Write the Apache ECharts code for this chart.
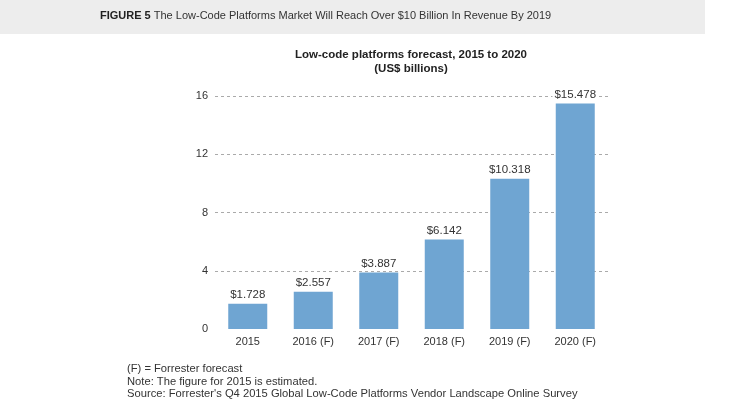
<!DOCTYPE html>
<html>
<head>
<meta charset="utf-8">
<script src="https://cdn.jsdelivr.net/npm/echarts@6/dist/echarts.min.js"></script>
<style>
html,body{margin:0;padding:0;background:#fff;}
#c{width:740px;height:416px;}
</style>
</head>
<body>
<div id="c"></div>
<script>
var categories = ['2015', '2016 (F)', '2017 (F)', '2018 (F)', '2019 (F)', '2020 (F)'];
var values = [1.728, 2.557, 3.887, 6.142, 10.318, 15.478];
var yTicks = [0, 4, 8, 12, 16];
var headerBold = 'FIGURE 5';
var headerText = ' The Low-Code Platforms Market Will Reach Over $10 Billion In Revenue By 2019';
var chartTitle = 'Low-code platforms forecast, 2015 to 2020';
var chartSubtitle = '(US$ billions)';
var notes = [
  '(F) = Forrester forecast',
  'Note: The figure for 2015 is estimated.',
  "Source: Forrester's Q4 2015 Global Low-Code Platforms Vendor Landscape Online Survey"
];

var FONT = '"Liberation Sans", Arial, sans-serif';
var chart = echarts.init(document.getElementById('c'), null, {renderer: 'canvas'});
chart.setOption({
  backgroundColor: '#fff',
  animation: false,
  title: {
    text: chartTitle + '\n' + chartSubtitle,
    left: 406,
    top: 43,
    textAlign: 'center',
    textStyle: {fontFamily: FONT, fontSize: 11.5, fontWeight: 'bold', color: '#222', lineHeight: 14}
  },
  grid: {left: 215, top: 96, width: 393, height: 233, containLabel: false},
  xAxis: {
    type: 'category',
    data: categories,
    axisLine: {show: false},
    axisTick: {show: false},
    axisLabel: {fontFamily: FONT, fontSize: 11, color: '#333', margin: 7}
  },
  yAxis: {
    type: 'value',
    min: 0,
    max: yTicks[yTicks.length - 1],
    interval: yTicks[1] - yTicks[0],
    axisLine: {show: false},
    axisTick: {show: false},
    axisLabel: {fontFamily: FONT, fontSize: 11, color: '#333', margin: 7},
    splitLine: {show: true, showMinLine: false, lineStyle: {type: [3, 3], color: '#aaa', width: 1}}
  },
  series: [{
    type: 'bar',
    data: values,
    barWidth: 39,
    itemStyle: {color: '#6fa5d2'},
    label: {
      show: true,
      position: 'top',
      distance: 3,
      fontFamily: FONT,
      fontSize: 11.5,
      color: '#333',
      backgroundColor: '#fff',
      padding: [0, 2],
      formatter: function (p) { return '$' + p.value.toFixed(3); }
    }
  }],
  graphic: [
    {type: 'rect', left: 0, top: 0, shape: {width: 705, height: 34}, style: {fill: '#ededed'}, z: -1},
    {type: 'text', left: 100, top: 10, style: {
      text: '{b|' + headerBold + '}' + headerText,
      fontFamily: FONT, fontSize: 11, fill: '#333',
      rich: {b: {fontFamily: FONT, fontSize: 11, fontWeight: 'bold', fill: '#222'}}
    }},
    {type: 'text', left: 127, top: 363, style: {
      text: notes.join('\n'), fontFamily: FONT, fontSize: 11.2, lineHeight: 12.5, fill: '#333'
    }}
  ]
});
</script>
</body>
</html>
